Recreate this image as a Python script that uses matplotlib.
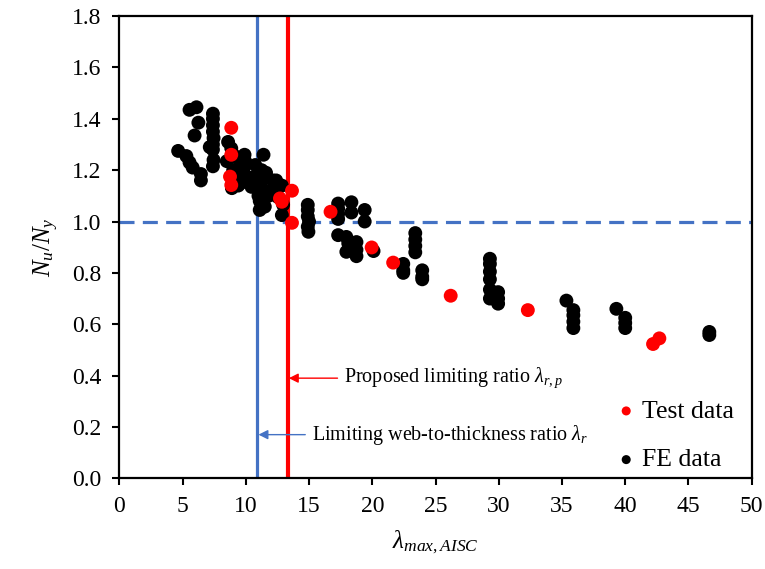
import matplotlib
matplotlib.use("Agg")
import matplotlib.pyplot as plt

plt.rcParams['font.family'] = ['Liberation Serif', 'DejaVu Serif']
plt.rcParams['mathtext.fontset'] = 'custom'
plt.rcParams['mathtext.rm'] = 'Liberation Serif'
plt.rcParams['mathtext.it'] = 'Liberation Serif:italic'

# Test data
test_x = [8.85, 8.85, 8.75, 8.85, 12.7, 12.85, 13.65, 13.65, 16.7, 19.95, 21.65, 26.2, 32.3, 42.2, 42.7]
test_y = [1.365, 1.26, 1.175, 1.142, 1.09, 1.077, 1.12, 0.995, 1.038, 0.899, 0.84, 0.711, 0.655, 0.523, 0.545]

# FE data
fe_x = [4.65, 5.3, 5.55, 5.8, 6.45, 6.45,
        5.55, 6.1, 6.25, 5.95,
        7.4, 7.4, 7.4, 7.4, 7.45, 7.4, 7.4, 7.45, 7.4, 7.15,
        8.6, 8.85, 8.5, 9.3, 9.95, 9.8, 9.95, 9.3, 8.9, 9.4, 9.0, 9.55, 9.0, 9.9, 9.6,
        11.4, 10.75, 11.25, 10.75, 11.4, 12.15, 10.45, 11.25, 12.3, 12.85, 11.0, 11.8, 12.55,
        11.25, 11.5, 12.85, 12.95, 10.35, 11.1, 11.1, 12.4, 11.9, 11.6,
        14.9, 14.9, 14.9, 15.0, 14.9, 14.95,
        17.3, 17.3, 17.3, 17.3,
        18.35, 18.35, 19.4, 19.4,
        17.3, 17.95, 18.1, 17.95, 18.75, 18.75, 18.75, 18.4, 20.1,
        23.4, 23.4, 23.4, 23.4,
        22.45, 22.45, 22.45, 23.95, 23.95, 23.95,
        29.3, 29.3, 29.3, 29.3, 29.3, 29.3, 29.95, 29.95, 29.95,
        35.35, 35.9, 35.9, 35.9, 35.9,
        39.3, 40.0, 40.0, 40.0,
        46.65, 46.65]
fe_y = [1.275, 1.255, 1.23, 1.21, 1.185, 1.16,
        1.435, 1.445, 1.385, 1.335,
        1.42, 1.40, 1.375, 1.35, 1.325, 1.30, 1.28, 1.24, 1.215, 1.29,
        1.31, 1.285, 1.235, 1.25, 1.235, 1.205, 1.18, 1.175, 1.13, 1.14, 1.20, 1.22, 1.26, 1.26, 1.15,
        1.26, 1.22, 1.20, 1.175, 1.168, 1.16, 1.135, 1.13, 1.13, 1.14, 1.10, 1.10, 1.095,
        1.07, 1.058, 1.025, 1.065, 1.17, 1.08, 1.045, 1.16, 1.12, 1.19,
        1.065, 1.045, 1.02, 1.0, 0.98, 0.96,
        1.07, 1.05, 1.03, 1.01,
        1.075, 1.035, 1.045, 1.0,
        0.947, 0.94, 0.915, 0.882, 0.92, 0.89, 0.865, 0.90, 0.885,
        0.955, 0.93, 0.905, 0.88,
        0.835, 0.81, 0.80, 0.81, 0.785, 0.775,
        0.855, 0.835, 0.805, 0.775, 0.735, 0.70, 0.725, 0.70, 0.68,
        0.692, 0.655, 0.635, 0.61, 0.585,
        0.66, 0.625, 0.605, 0.585,
        0.57, 0.558]

lambda_r = 10.9
lambda_rp = 13.3
ref_level = 1.0

x_ticks = [0, 5, 10, 15, 20, 25, 30, 35, 40, 45, 50]
y_ticks = [0.0, 0.2, 0.4, 0.6, 0.8, 1.0, 1.2, 1.4, 1.6, 1.8]

fig = plt.figure(figsize=(7.65, 5.69), dpi=100)
ax = fig.add_axes([0.156, 0.1594, 0.8266, 0.8123])

blue = '#4472C4'
ax.axvline(lambda_r, color=blue, lw=2.3, zorder=1)
ax.axvline(lambda_rp, color='#FF0000', lw=3.0, zorder=1)
ax.axhline(ref_level, color=blue, lw=2.3, linestyle=(0, (4.7, 2.6)), zorder=1)

ax.scatter(fe_x, fe_y, s=100, color='black', edgecolors='none', zorder=3, label='FE data')
ax.scatter(test_x, test_y, s=100, color='#FF0000', edgecolors='none', zorder=4, label='Test data')

ax.set_xlim(0, 50)
ax.set_ylim(0, 1.8)
ax.set_xticks(x_ticks)
ax.set_yticks(y_ticks)
ax.set_yticklabels([f"{v:.1f}" for v in y_ticks])
ax.tick_params(direction='out', length=5, width=1.5, labelsize=17, pad=8)
for sp in ax.spines.values():
    sp.set_linewidth(1.6)

ax.set_xlabel(r'$\lambda_{max,AISC}$', fontsize=18, labelpad=8)
ax.set_ylabel(r'$N_u/N_y$', fontsize=18, labelpad=8)

ax.annotate('Proposed limiting ratio $\\lambda_{r,p}$', xy=(lambda_rp + 0.1, 0.39), xytext=(17.8, 0.39),
            fontsize=14.5, va='center', ha='left',
            arrowprops=dict(arrowstyle='-|>', color='#FF0000', lw=1, mutation_scale=14, shrinkA=3, shrinkB=0))
ax.annotate('Limiting web-to-thickness ratio $\\lambda_{r}$', xy=(lambda_r + 0.1, 0.17), xytext=(15.25, 0.17),
            fontsize=14.5, va='center', ha='left',
            arrowprops=dict(arrowstyle='-|>', color=blue, lw=1, mutation_scale=14, shrinkA=3, shrinkB=0))

h, l = ax.get_legend_handles_labels()
leg = ax.legend([h[1], h[0]], [l[1], l[0]], loc='lower right', bbox_to_anchor=(1.008, -0.035),
                frameon=False, fontsize=18.5, markerscale=0.65, handletextpad=0.1,
                handlelength=1.0, labelspacing=1.0)

fig.savefig('out.png', dpi=100)
